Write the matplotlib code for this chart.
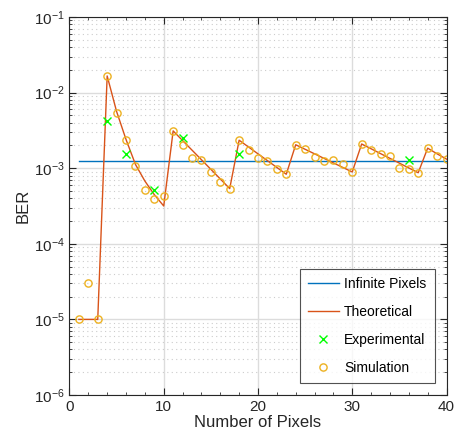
import numpy as np
import matplotlib
matplotlib.use("Agg")
import matplotlib.pyplot as plt
from matplotlib.ticker import LogLocator, FixedLocator, NullFormatter

plt.rcParams['font.family'] = ['Liberation Sans', 'DejaVu Sans']
plt.rcParams['mathtext.fontset'] = 'custom'
plt.rcParams['mathtext.rm'] = 'Liberation Sans'
plt.rcParams['mathtext.it'] = 'Liberation Sans:italic'

# Data
pixels = list(range(1, 41))
infinite_ber = 1.26e-3
theoretical_log = [-5.0, -5.0, -5.0,
                   -1.78, -2.25, -2.62, -2.95, -3.17, -3.35, -3.50,
                   -2.507, -2.634, -2.761, -2.888, -3.015, -3.142, -3.27,
                   -2.63, -2.72, -2.81, -2.90, -2.99, -3.08,
                   -2.69, -2.75, -2.81, -2.87, -2.93, -2.99, -3.05,
                   -2.68, -2.743, -2.807, -2.87, -2.933, -2.997, -3.06,
                   -2.735, -2.81, -2.88]
theoretical = [10 ** v for v in theoretical_log]
simulation = [1e-5, 3e-5, 1e-5, 1.65e-2, 5.4e-3, 2.37e-3, 1.06e-3, 5.1e-4, 3.93e-4, 4.3e-4,
              3.1e-3, 2.04e-3, 1.38e-3, 1.27e-3, 8.8e-4, 6.5e-4, 5.3e-4,
              2.34e-3, 1.73e-3, 1.38e-3, 1.24e-3, 9.7e-4, 8.4e-4,
              2.03e-3, 1.8e-3, 1.39e-3, 1.24e-3, 1.3e-3, 1.13e-3, 8.8e-4,
              2.09e-3, 1.73e-3, 1.53e-3, 1.44e-3, 1.0e-3, 9.7e-4, 8.7e-4,
              1.84e-3, 1.44e-3, 1.32e-3]
exp_pixels = [4, 6, 9, 12, 18, 36]
experimental = [4.2e-3, 1.56e-3, 5.1e-4, 2.54e-3, 1.54e-3, 1.29e-3]

fig = plt.figure(figsize=(4.54, 4.41), dpi=100)
ax = fig.add_axes([0.153, 0.1043, 0.8305, 0.8572])

ax.plot([pixels[0], pixels[-1]], [infinite_ber, infinite_ber], color=(0, 0.447, 0.741),
        lw=1.0, label='Infinite Pixels')
ax.plot(pixels, theoretical, color=(0.85, 0.325, 0.098), lw=1.0, label='Theoretical')
ax.plot(exp_pixels, experimental, ls='none', marker='x', color=(0, 1, 0), ms=5.5,
        mew=1.0, label='Experimental')
ax.plot(pixels, simulation, ls='none', marker='o', mfc='none', mec=(0.929, 0.694, 0.125),
        ms=5.2, mew=1.0, label='Simulation')

ax.set_yscale('log')
ax.set_xlim(0, 40)
ax.set_ylim(1e-6, 1e-1)
ax.set_xticks([0, 10, 20, 30, 40])
ax.xaxis.set_minor_locator(FixedLocator(np.arange(0, 41, 2)))
ax.yaxis.set_major_locator(LogLocator(base=10, numticks=10))
ax.yaxis.set_minor_locator(LogLocator(base=10, subs=np.arange(2, 10), numticks=20))
ax.yaxis.set_minor_formatter(NullFormatter())

ax.grid(True, which='major', color='#dcdcdc', lw=1.0, ls='-')
ax.grid(True, which='minor', axis='y', color='#cccccc', lw=0.8, ls=(0, (1, 3)))
ax.set_axisbelow(True)

ax.tick_params(which='both', direction='in', top=True, right=True, labelsize=11,
               colors='#262626')
ax.tick_params(which='major', length=5)
ax.tick_params(which='minor', length=2.5)
for s in ax.spines.values():
    s.set_color('#262626')
    s.set_linewidth(0.8)

ax.set_xlabel('Number of Pixels', fontsize=12, color='#262626', labelpad=1)
ax.set_ylabel('BER', fontsize=12, color='#262626', labelpad=2)

leg = ax.legend(loc='lower right', fontsize=10, frameon=True, fancybox=False,
                edgecolor='#262626', borderpad=0.6, labelspacing=1.0,
                handlelength=2.2, handletextpad=0.4, borderaxespad=0,
                bbox_to_anchor=(0.969, 0.032))
leg.get_frame().set_linewidth(0.8)

fig.savefig('out.png', dpi=100)
